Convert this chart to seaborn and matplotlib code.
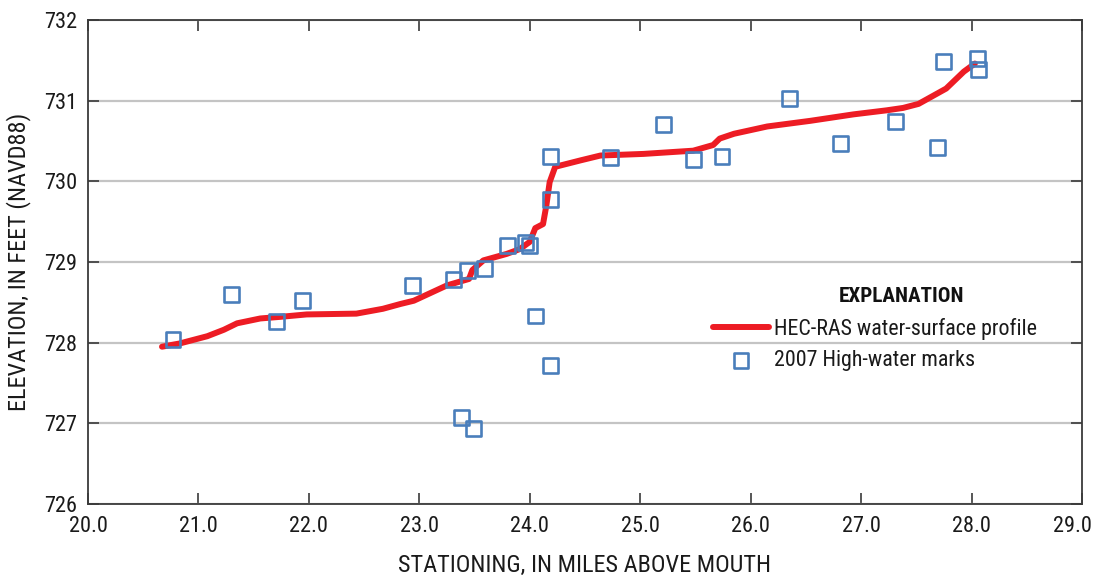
import matplotlib
matplotlib.use("Agg")
import matplotlib.pyplot as plt
import matplotlib.transforms as mtransforms
import seaborn as sns
import pandas as pd

# HEC-RAS water-surface profile (stationing in miles, elevation in feet)
profile_station = [20.67, 20.83, 21.08, 21.23, 21.35, 21.56, 21.74, 21.98, 22.43, 22.67,
                   22.83, 22.95, 23.25, 23.45, 23.48, 23.58, 23.79, 23.91, 24.00, 24.05,
                   24.12, 24.15, 24.18, 24.23, 24.46, 24.64, 25.03, 25.48, 25.66, 25.72,
                   25.85, 26.15, 26.54, 26.93, 27.23, 27.38, 27.52, 27.77, 27.93, 28.03]
profile_elev = [727.95, 727.99, 728.08, 728.16, 728.24, 728.30, 728.32, 728.35, 728.36, 728.42,
                728.48, 728.52, 728.71, 728.79, 728.90, 729.02, 729.10, 729.16, 729.25, 729.42,
                729.47, 729.70, 729.99, 730.18, 730.26, 730.32, 730.34, 730.38, 730.45, 730.53,
                730.59, 730.68, 730.75, 730.83, 730.88, 730.91, 730.96, 731.15, 731.36, 731.46]

# 2007 High-water marks
hwm_station = [20.77, 21.30, 21.71, 21.94, 22.94, 23.31, 23.38, 23.44, 23.49, 23.59,
               23.80, 23.96, 24.00, 24.05, 24.19, 24.19, 24.19, 24.73, 25.21, 25.48,
               25.74, 26.35, 26.81, 27.31, 27.69, 27.75, 28.05, 28.06]
hwm_elev = [728.04, 728.60, 728.26, 728.52, 728.71, 728.78, 727.07, 728.90, 726.94, 728.92,
            729.21, 729.24, 729.21, 728.33, 730.31, 729.78, 727.72, 730.30, 730.70, 730.27,
            730.31, 731.03, 730.47, 730.74, 730.42, 731.48, 731.52, 731.39]

x_ticks = [20.0, 21.0, 22.0, 23.0, 24.0, 25.0, 26.0, 27.0, 28.0, 29.0]
y_ticks = [726, 727, 728, 729, 730, 731, 732]

line_label = "HEC-RAS water-surface profile"
marker_label = "2007 High-water marks"
legend_title = "EXPLANATION"
x_label = "STATIONING, IN MILES ABOVE MOUTH"
y_label = "ELEVATION, IN FEET (NAVD88)"

sns.set_theme(style="white")
plt.rcParams["font.family"] = ["Roboto Condensed", "Liberation Sans Narrow", "DejaVu Sans"]
plt.rcParams["font.stretch"] = "condensed"

RED = "#ED1C24"
BLUE = "#4A7EBB"
SPINE = "#3a3a3a"
TXT = "#1a1a1a"

fig = plt.figure(figsize=(10.95, 5.8), dpi=100)
ax = fig.add_axes([88 / 1095, 1 - 504 / 580, (1082 - 88) / 1095, (504 - 20) / 580])

df_line = pd.DataFrame({"station": profile_station, "elev": profile_elev})
df_pts = pd.DataFrame({"station": hwm_station, "elev": hwm_elev})

sns.lineplot(data=df_line, x="station", y="elev", ax=ax, color=RED, lw=4.3,
             estimator=None, sort=True, label=line_label, zorder=3,
             solid_capstyle="round")
sns.scatterplot(data=df_pts, x="station", y="elev", ax=ax, marker="s", s=115,
                facecolors="none", edgecolor=BLUE, linewidth=1.9, label=marker_label,
                zorder=4)

ax.set_xlim(20, 29)
ax.set_ylim(726, 732)
ax.set_xticks(x_ticks)
ax.set_xticklabels([f"{t:.1f}" for t in x_ticks])
ax.set_yticks(y_ticks)
ax.set_yticklabels([str(t) for t in y_ticks])

ax.yaxis.grid(True, color="#c4c4c4", lw=1.6)
ax.xaxis.grid(False)
ax.set_axisbelow(True)

for s in ax.spines.values():
    s.set_visible(True)
    s.set_color(SPINE)
    s.set_linewidth(1.3)

ax.tick_params(axis="both", which="both", direction="in", length=8, width=1.2,
               color=SPINE, labelsize=16, labelcolor=TXT,
               top=True, right=True, bottom=True, left=True)
ax.tick_params(axis="x", pad=9)
ax.tick_params(axis="y", pad=8)

# last x label nudged left so it stays inside the figure, as in the reference
last = ax.get_xticklabels()[-1]
last.set_transform(last.get_transform() +
                   mtransforms.ScaledTranslation(-10 / 100, 0, fig.dpi_scale_trans))

ax.set_xlabel(x_label, fontsize=17.5, color=TXT, labelpad=12)
ax.set_ylabel(y_label, fontsize=17.5, color=TXT, labelpad=9)

leg = ax.legend(loc="center left", bbox_to_anchor=(713 / 1095, 1 - 344.5 / 580),
                bbox_transform=fig.transFigure, frameon=False, fontsize=15.8,
                handlelength=2.55, handletextpad=0.25, labelspacing=0.5,
                borderpad=0, borderaxespad=0)
for t in leg.get_texts():
    t.set_color(TXT)

fig.text(902 / 1095, 1 - 297 / 580, legend_title, ha="center", va="center",
         fontsize=15.2, fontweight="bold", color="#111111")

fig.savefig("out.png", dpi=100)
